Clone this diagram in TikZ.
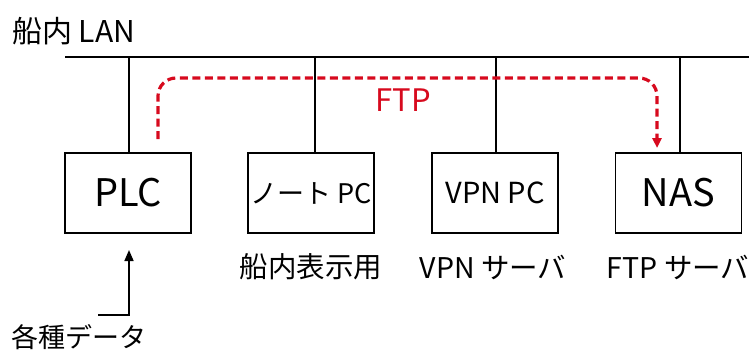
\documentclass[tikz,border=0pt]{standalone}
\usepackage{fontspec}
\setmainfont{Noto Sans CJK JP}
\usetikzlibrary{arrows.meta}
\definecolor{ftpred}{RGB}{215,10,30}
\begin{document}
\begin{tikzpicture}[x=1pt,y=-1pt,
  dev/.style={draw,line width=1.6pt,minimum width=126pt,minimum height=80pt,inner sep=0pt,font=\fontsize{29}{32}\selectfont},
  bigdev/.style={dev,font=\fontsize{38}{42}\selectfont},
  lbl/.style={font=\fontsize{28.5}{32}\selectfont,inner sep=0pt},
  wire/.style={line width=1.6pt},
  ftp/.style={draw=ftpred,line width=3.2pt,dash pattern=on 8pt off 4.5pt,rounded corners=18pt}]
\useasboundingbox (0,0) rectangle (749,351);
% LAN
\node[lbl,anchor=west,font=\fontsize{30}{34}\selectfont] (lanlbl) at (12,31) {船内 LAN};
\coordinate (lanL) at (65,57);
\coordinate (lanR) at (749,57);
\draw[wire] (lanL) -- (lanR);
% devices
\node[bigdev] (plc) at (128,193) {PLC};
\node[dev,font=\fontsize{27}{30}\selectfont] (note) at (311,193) {ノート PC};
\node[dev] (vpn) at (495,193) {VPN PC};
\node[bigdev] (nas) at (678.5,193) {NAS};
% drops
\coordinate (d1) at (129,57);
\coordinate (d2) at (315,57);
\coordinate (d3) at (496,57);
\coordinate (d4) at (680,57);
\draw[wire] (d1) -- (d1 |- plc.north);
\draw[wire] (d2) -- (d2 |- note.north);
\draw[wire] (d3) -- (d3 |- vpn.north);
\draw[wire] (d4) -- (d4 |- nas.north);
% labels
\node[lbl] (l2) at (311,267) {船内表示用};
\node[lbl] (l3) at (493,267) {VPN サーバ};
\node[lbl] (l4) at (678,267) {FTP サーバ};
% data input
\node[lbl,anchor=west,font=\fontsize{27}{30}\selectfont] (data) at (11,337) {各種データ};
\coordinate (dA) at (98,315);
\coordinate (dB) at (129,315);
\coordinate (dC) at (129,250);
\draw[wire,-{Triangle[length=11pt,width=9pt]}] (dA) -- (dB) -- (dC);
% FTP
\coordinate (fA) at (158,139);
\coordinate (fB) at (158,78);
\coordinate (fC) at (657,78);
\coordinate (fD) at (657,148);
\draw[ftp,-{Triangle[length=10pt,width=9pt,fill=ftpred,sep=0pt]}] (fA) -- (fB) -- (fC) -- (fD);
\node[lbl,text=ftpred,font=\fontsize{31}{34}\selectfont] (ftplbl) at (403,100) {FTP};
\end{tikzpicture}
\end{document}
